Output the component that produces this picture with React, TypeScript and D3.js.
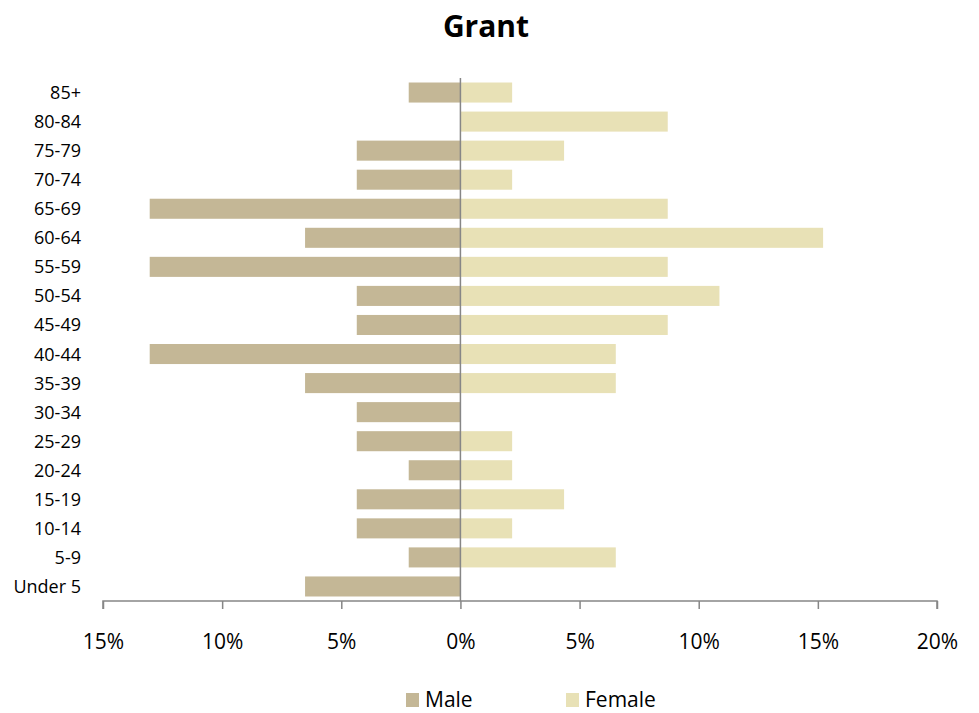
import { useEffect, useRef } from "react";
import * as d3 from "d3";

const ageGroups = ["Under 5", "5-9", "10-14", "15-19", "20-24", "25-29", "30-34", "35-39", "40-44", "45-49", "50-54", "55-59", "60-64", "65-69", "70-74", "75-79", "80-84", "85+"];
const maleValues = [6.52, 2.17, 4.35, 4.35, 2.17, 4.35, 4.35, 6.52, 13.04, 4.35, 4.35, 13.04, 6.52, 13.04, 4.35, 4.35, 0, 2.17];
const femaleValues = [0, 6.52, 2.17, 4.35, 2.17, 2.17, 0, 6.52, 6.52, 8.7, 10.87, 8.7, 15.22, 8.7, 2.17, 4.35, 8.7, 2.17];
const xTicks = [-15, -10, -5, 0, 5, 10, 15, 20];

const W = 979;
const H = 713;
const FONT = "'Open Sans', Lato, sans-serif";
const MALE = "#c4b796";
const FEMALE = "#e8e1b6";
const AXIS = "#868686";

export default function App() {
  const svgRef = useRef<SVGSVGElement>(null);

  useEffect(() => {
    if (!svgRef.current) return;
    const svg = d3.select(svgRef.current);
    svg.selectAll("*").remove();

    const x = d3.scaleLinear().domain([-15, 20]).range([103, 937]);
    const y = d3.scaleBand<string>().domain([...ageGroups].reverse()).range([78, 601]).paddingInner(0.31).paddingOuter(0.155);

    // title
    svg.append("text")
      .attr("x", 486).attr("y", 37)
      .attr("text-anchor", "middle")
      .attr("font-family", FONT).attr("font-weight", "bold").attr("font-size", 30)
      .text("Grant");

    // bars
    svg.append("g").selectAll("rect")
      .data(ageGroups.map((g, i) => ({ g, v: maleValues[i] })))
      .join("rect")
      .attr("x", d => x(-d.v)).attr("width", d => x(0) - x(-d.v))
      .attr("y", d => y(d.g)!).attr("height", y.bandwidth())
      .attr("fill", MALE);

    svg.append("g").selectAll("rect")
      .data(ageGroups.map((g, i) => ({ g, v: femaleValues[i] })))
      .join("rect")
      .attr("x", x(0)).attr("width", d => x(d.v) - x(0))
      .attr("y", d => y(d.g)!).attr("height", y.bandwidth())
      .attr("fill", FEMALE);

    // zero line
    svg.append("line")
      .attr("x1", x(0)).attr("x2", x(0)).attr("y1", 78).attr("y2", 601)
      .attr("stroke", AXIS).attr("stroke-width", 1.5);

    // category labels
    svg.append("g").selectAll("text")
      .data(ageGroups)
      .join("text")
      .attr("x", 81).attr("y", d => y(d)! + y.bandwidth() / 2 + 6.5)
      .attr("text-anchor", "end")
      .attr("font-family", FONT).attr("font-size", 18)
      .text(d => d);

    // x axis
    const xAxis = d3.axisBottom(x)
      .tickValues(xTicks)
      .tickSize(8)
      .tickFormat(d => `${Math.abs(+d)}%`);
    const ax = svg.append("g").attr("transform", "translate(0,601)").call(xAxis);
    ax.select(".domain").attr("stroke", AXIS).attr("stroke-width", 1.5).attr("d", `M${x(-15)},8V0H${x(20)}V8`);
    ax.selectAll(".tick line").attr("stroke", AXIS).attr("stroke-width", 1.5);
    ax.selectAll(".tick text")
      .attr("y", 48).attr("dy", null)
      .attr("font-family", FONT).attr("font-size", 21).attr("fill", "#000");

    // legend
    const legend = [
      { label: "Male", color: MALE, x: 406 },
      { label: "Female", color: FEMALE, x: 566 },
    ];
    const lg = svg.append("g").selectAll("g").data(legend).join("g")
      .attr("transform", d => `translate(${d.x},693)`);
    lg.append("rect").attr("width", 13).attr("height", 14).attr("fill", d => d.color);
    lg.append("text")
      .attr("x", 19).attr("y", 14)
      .attr("font-family", FONT).attr("font-size", 21)
      .text(d => d.label);
  }, []);

  return (
    <svg ref={svgRef} width={W} height={H} style={{ position: "absolute", left: 0, top: 0, background: "#fff" }} />
  );
}
